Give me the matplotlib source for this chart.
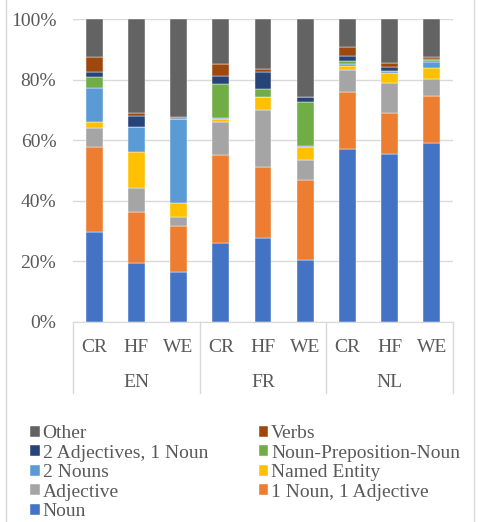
import matplotlib
matplotlib.use('Agg')
import matplotlib.pyplot as plt
from matplotlib.patches import Rectangle
from matplotlib.lines import Line2D
import numpy as np

plt.rcParams['font.family'] = ['Liberation Serif', 'DejaVu Serif']

# bar order: EN CR/HF/WE, FR CR/HF/WE, NL CR/HF/WE
sub_labels = ['CR', 'HF', 'WE'] * 3
groups = ['EN', 'FR', 'NL']

series = ['Noun', '1 Noun, 1 Adjective', 'Adjective', 'Named Entity', '2 Nouns',
          'Noun-Preposition-Noun', '2 Adjectives, 1 Noun', 'Verbs', 'Other']
noun       = [29.8, 19.6, 16.6, 26.2, 27.8, 20.5, 57.2, 55.3, 59.2]
noun_adj   = [28.1, 16.8, 15.1, 28.9, 23.5, 26.4, 18.8, 13.8, 15.5]
adjective  = [6.0, 7.9, 3.1, 10.8, 18.7, 6.6, 7.2, 9.7, 5.6]
named_ent  = [2.2, 11.7, 4.4, 1.1, 4.1, 4.1, 1.3, 3.3, 3.4]
two_nouns  = [11.0, 8.5, 27.8, 0.4, 0.3, 0.6, 0.5, 0.8, 2.2]
npn        = [3.6, 0.0, 0.1, 11.0, 2.4, 14.5, 1.1, 0.0, 0.6]
two_adj    = [1.9, 3.5, 0.1, 2.8, 5.8, 1.7, 1.8, 1.4, 0.2]
verbs      = [4.7, 1.1, 0.3, 3.8, 0.9, 0.0, 2.7, 1.3, 0.9]
other      = [12.7, 30.9, 32.5, 15.0, 16.5, 25.6, 9.4, 14.4, 12.4]
values = [noun, noun_adj, adjective, named_ent, two_nouns, npn, two_adj, verbs, other]
colors = ['#4472C4', '#ED7D31', '#A5A5A5', '#FFC000', '#5B9BD5',
          '#70AD47', '#264478', '#9E480E', '#636363']

txt = '#595959'
fig = plt.figure(figsize=(4.78, 5.22), dpi=100)
ax = fig.add_axes([73/478, 1-322/522, 380/478, 303/522])

x = np.arange(len(sub_labels))
bottom = np.zeros(len(x))
bars = {}
for name, vals, c in zip(series, values, colors):
    v = np.array(vals) / 100.0
    bars[name] = ax.bar(x, v, 0.4, bottom=bottom, color=c, label=name,
                        edgecolor='white', linewidth=0.3)
    bottom += v

ax.set_xlim(-0.5, 8.5)
ax.set_ylim(0, 1)
ax.set_yticks(np.arange(0, 1.01, 0.2))
ax.set_yticklabels(['%d%%' % int(round(t*100)) for t in np.arange(0, 1.01, 0.2)])
ax.grid(True, axis='y', color='#D9D9D9', linewidth=1)
ax.set_axisbelow(True)
for s in ['left', 'right', 'top']:
    ax.spines[s].set_visible(False)
ax.spines['bottom'].set_color('#D9D9D9')
ax.tick_params(axis='both', length=0, labelsize=14, colors=txt)
ax.tick_params(axis='y', pad=12)
ax.set_xticks(x)
ax.set_xticklabels(sub_labels)
ax.tick_params(axis='x', pad=12)

# group labels and separators
for i, g in enumerate(groups):
    ax.text(3*i + 1, -0.2, g, ha='center', va='center', fontsize=14, color=txt,
            transform=ax.get_xaxis_transform())
for xs in [-0.5, 2.5, 5.5, 8.5]:
    ax.add_line(Line2D([xs, xs], [0, -0.235], color='#D9D9D9', linewidth=1,
                       transform=ax.get_xaxis_transform(), clip_on=False))

order = ['Other', '2 Adjectives, 1 Noun', '2 Nouns', 'Adjective', 'Noun',
         'Verbs', 'Noun-Preposition-Noun', 'Named Entity', '1 Noun, 1 Adjective']
leg = fig.legend([bars[n] for n in order], order, ncol=2, loc='upper left',
                 bbox_to_anchor=(30/478, 1-425/522), frameon=False, fontsize=14,
                 handlelength=0.5, handleheight=0.5, handletextpad=0.15,
                 labelspacing=0.13, columnspacing=2.6, borderaxespad=0,
                 borderpad=0)
for t in leg.get_texts():
    t.set_color(txt)

fig.patches.append(Rectangle((6/478, -0.02), 468/478, 1.04, transform=fig.transFigure,
                             fill=False, edgecolor='#D9D9D9', linewidth=1))

fig.savefig('out.png', dpi=100)
